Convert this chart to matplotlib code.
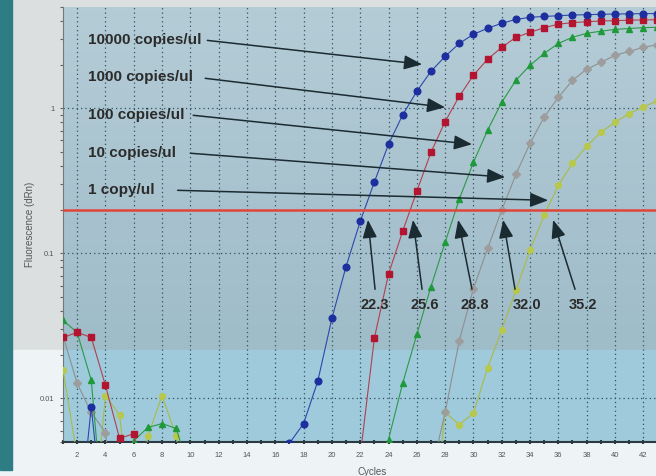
import numpy as np
import matplotlib.pyplot as plt
from matplotlib.patches import Rectangle
from matplotlib.colors import LinearSegmentedColormap
from matplotlib.ticker import MultipleLocator, NullFormatter

plt.rcParams['font.family'] = ['Liberation Sans', 'DejaVu Sans']

L = 0.001  # below detection, off the bottom of the log axis

cycles = np.arange(1, 44)

blue_10000 = [L, L, 0.0087, L, L, L, L, L, L, L,
              L, L, L, L, L, L, 0.0049, 0.0067, 0.0131, 0.0356,
              0.081, 0.166, 0.31, 0.565, 0.90, 1.31, 1.80, 2.28, 2.80, 3.24,
              3.56, 3.86, 4.10, 4.24, 4.30, 4.35, 4.40, 4.42, 4.45, 4.47,
              4.48, 4.50, 4.50]
red_1000 = [0.0263, 0.0285, 0.0263, 0.0123, 0.0053, 0.0057, L, L, L, L,
            L, L, L, L, L, L, L, L, L, L,
            L, 0.004, 0.026, 0.072, 0.142, 0.268, 0.497, 0.81, 1.21, 1.69,
            2.18, 2.63, 3.09, 3.34, 3.60, 3.80, 3.90, 3.95, 4.00, 4.02,
            4.05, 4.07, 4.08]
green_100 = [0.0345, 0.0285, 0.0133, L, L, 0.0051, 0.0063, 0.0067, 0.0062, 0.003,
             L, L, L, L, L, L, L, L, L, L,
             L, L, L, 0.0052, 0.0127, 0.0276, 0.059, 0.119, 0.236, 0.424,
             0.706, 1.10, 1.56, 1.98, 2.39, 2.80, 3.09, 3.29, 3.40, 3.50,
             3.55, 3.60, 3.62]
gray_10 = [0.027, 0.0127, 0.008, 0.0058, L, L, L, L, L, L,
           L, L, L, L, L, L, L, L, L, L,
           L, L, L, L, L, L, 0.003, 0.008, 0.025, 0.057,
           0.108, 0.198, 0.35, 0.574, 0.87, 1.19, 1.56, 1.86, 2.07, 2.32,
           2.47, 2.63, 2.75]
yellow_1 = [0.0157, 0.004, L, 0.0104, 0.0077, L, 0.0055, 0.0104, 0.0055, L,
            L, L, L, L, L, L, L, L, L, L,
            L, L, L, L, L, L, L, 0.008, 0.0066, 0.0079,
            0.0162, 0.0296, 0.0556, 0.105, 0.183, 0.295, 0.418, 0.547, 0.683, 0.80,
            0.92, 1.02, 1.13]

sample_labels = ['10000 copies/ul', '1000 copies/ul', '100 copies/ul',
                 '10 copies/ul', '1 copy/ul']
ct_values = [22.3, 25.6, 28.8, 32.0, 35.2]
threshold = 0.2

fig = plt.figure(figsize=(6.56, 4.76), dpi=100, facecolor='#dcdfdf')
# photo-like backdrop
fig.patches.append(Rectangle((0, 0), 1, 0.265, transform=fig.transFigure,
                             color='#eef4f6', zorder=-10))
fig.patches.append(Rectangle((0, 0.013), 0.018, 1, transform=fig.transFigure,
                             color='#2e7d84', zorder=-9))

ax = fig.add_axes([0.096, 0.0714, 0.904, 0.914])
ax.set_facecolor('#a9c5d1')
grad = np.linspace(0, 1, 100).reshape(-1, 1)
bg_cmap = LinearSegmentedColormap.from_list('bg', ['#9fbcc9', '#b4ccd6'])
ax.imshow(grad, extent=[0, 1, 0.212, 1], transform=ax.transAxes, aspect='auto',
          origin='lower', cmap=bg_cmap, zorder=0)
ax.add_patch(Rectangle((0, 0), 1, 0.212, transform=ax.transAxes,
                       color='#9ecadb', zorder=0))

series = [
    (yellow_1, '#b7c84c', '#a9bb45', 'o', 4.2),
    (gray_10, '#9d9d9d', '#8f8f8f', 'D', 4.0),
    (green_100, '#1f9a3a', '#2a9a45', '^', 4.6),
    (red_1000, '#b3142f', '#b0404f', 's', 4.6),
    (blue_10000, '#1d2e9e', '#2c47ad', 'o', 4.8),
]
for vals, mc, lc, mk, ms in series:
    ax.plot(cycles, vals, color=lc, lw=0.8, marker=mk, ms=ms,
            mfc=mc, mec=mc, zorder=3)

ax.axhline(threshold, color='#e0453a', lw=1.8, zorder=4)

ax.set_yscale('log')
ax.set_xlim(1, 42.9)
ax.set_ylim(0.005, 5)

ax.xaxis.set_major_locator(MultipleLocator(2))
ax.xaxis.set_minor_locator(MultipleLocator(1))
ax.set_yticks([0.01, 0.1, 1])
ax.set_yticklabels(['0.01', '0.1', '1'])
ax.yaxis.set_minor_formatter(NullFormatter())
ax.tick_params(axis='x', which='both', direction='inout', length=3, width=1.5,
               color='#2a3a40', labelsize=5.5, labelcolor='#555555', pad=6)
ax.tick_params(axis='y', which='both', color='#666666', labelsize=5.5,
               labelcolor='#555555', length=2.5, width=0.8)
ax.grid(True, which='major', color='#34505e', linestyle=(0, (1, 2.5)), lw=0.9)
ax.set_axisbelow(True)

for s in ['top', 'right']:
    ax.spines[s].set_visible(False)
ax.spines['bottom'].set_color('#2a3a40')
ax.spines['bottom'].set_linewidth(1.5)
ax.spines['left'].set_color('#777777')
ax.spines['left'].set_linewidth(0.8)

ax.set_xlabel('Cycles', fontsize=7, color='#555555')
ax.xaxis.set_label_coords(0.521, -0.057)
ax.set_ylabel('Fluorescence (dRn)', fontsize=7, color='#555555')
ax.yaxis.set_label_coords(-0.047, 0.5)

arrow_kw = dict(arrowstyle='-|>,head_length=0.5,head_width=0.2',
                mutation_scale=22, color='#1b2b32', lw=1.1,
                shrinkA=0, shrinkB=0)

# sample labels with arrows pointing at each curve
label_y = [2.94, 1.636, 0.895, 0.490, 0.272]
tails = [(11.2, 2.94), (11.05, 1.61), (10.2, 0.895), (10.0, 0.49), (9.1, 0.272)]
tips = [(26.37, 2.01), (28.0, 1.016), (29.9, 0.565), (32.24, 0.335), (35.28, 0.232)]
for lab, ly, tl, tp in zip(sample_labels, label_y, tails, tips):
    ax.text(2.77, ly, lab, fontsize=11, fontweight='bold', color='#2b2b2b',
            ha='left', va='center', zorder=6)
    ax.annotate('', xy=tp, xytext=tl, arrowprops=arrow_kw, zorder=6)

# Ct markers at the threshold
ct_tip_dx = [0.25, 0.13, 0.12, 0.10, 0.43]
ct_tail_x = [23.05, 26.37, 29.9, 32.94, 37.18]
ct_lab_x = [23.05, 26.58, 30.12, 33.79, 37.75]
for ct, dx, tx, lx in zip(ct_values, ct_tip_dx, ct_tail_x, ct_lab_x):
    ax.annotate('', xy=(ct + dx, 0.17), xytext=(tx, 0.0565),
                arrowprops=arrow_kw, zorder=6)
    ax.text(lx, 0.0438, f'{ct:.1f}', fontsize=10.5, fontweight='bold',
            color='#2b2b2b', ha='center', va='center', zorder=6)

fig.savefig('out.png', dpi=100, facecolor=fig.get_facecolor())
